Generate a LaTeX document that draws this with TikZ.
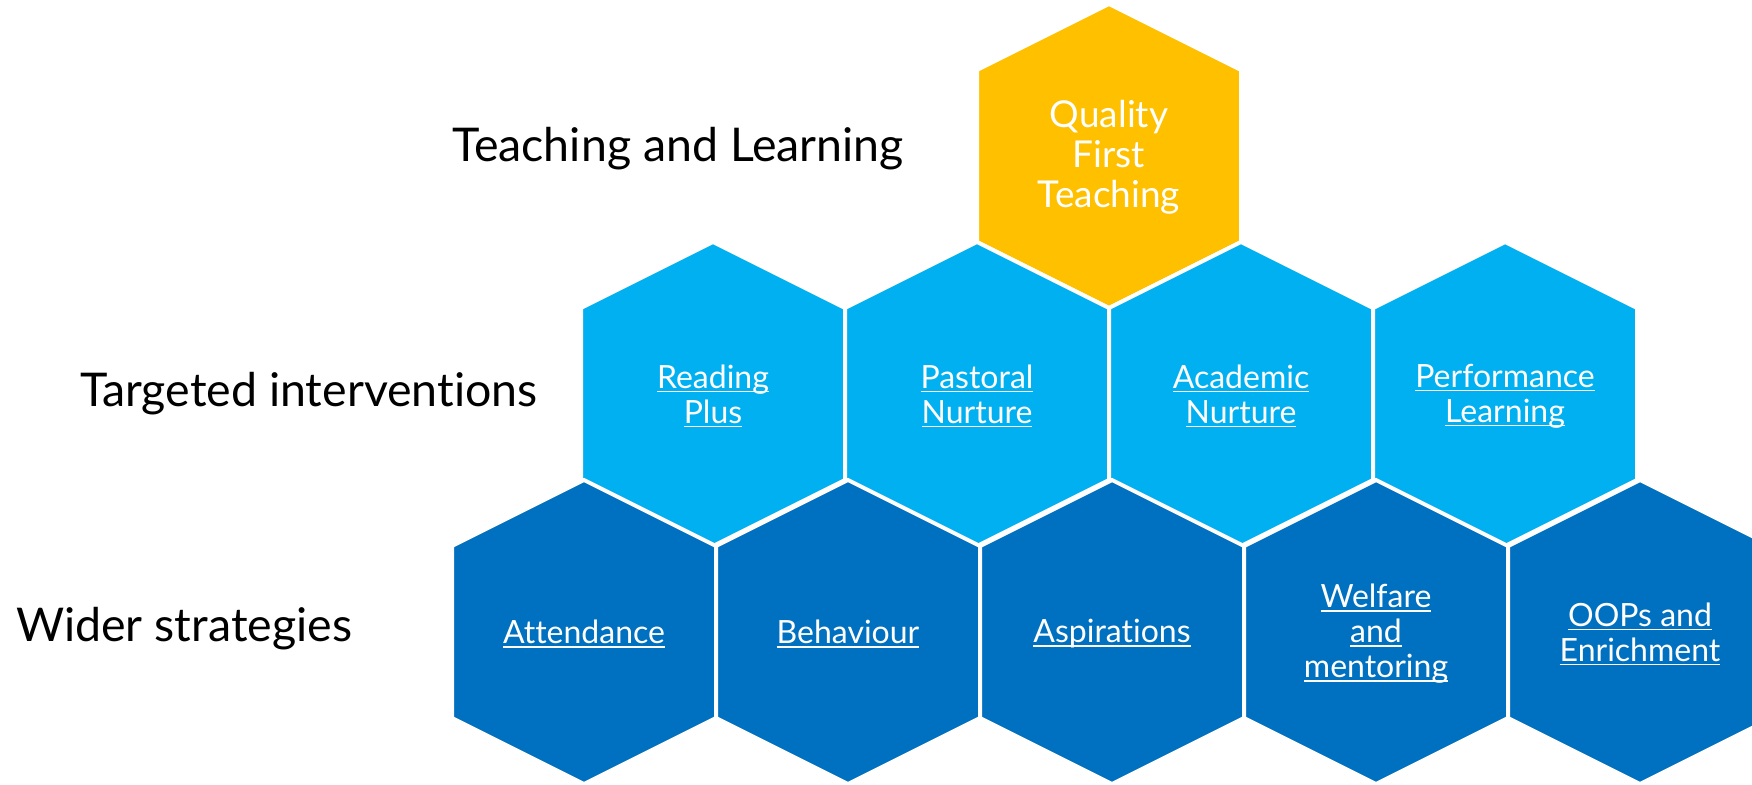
\documentclass[tikz,border=0pt]{standalone}
\usepackage{fontspec}
\setmainfont{Lato}[Ligatures=NoCommon]
\definecolor{qftyellow}{HTML}{FFC000}
\definecolor{targetblue}{HTML}{00B0F0}
\definecolor{widerblue}{HTML}{0070C0}
\newcommand{\hlink}[1]{\setbox0=\hbox{#1}\rlap{\rule[-0.12em]{\wd0}{0.045em}}\box0}
\newcommand{\hexat}[2]{\filldraw[#2] (#1) ++(0,-152) -- ++(132,66) -- ++(0,172) -- ++(-132,66) -- ++(-132,-66) -- ++(0,-172) -- cycle;}
\tikzset{
  every picture/.style={x=1pt,y=-1pt},
  cell/.style={draw=white,line width=4pt,line join=miter},
  celltext/.style={text=white,align=center,inner sep=0pt,font=\fontsize{32}{35}\selectfont},
  tiertext/.style={anchor=west,inner sep=0pt,font=\fontsize{46.5}{54}\selectfont}
}

\begin{document}
\begin{tikzpicture}
      \clip (0,0) rectangle (1752,784);
      \fill[white] (0,0) rectangle (1752,784);
      \hexat{1109,156}{cell,fill=qftyellow}
      \node[celltext,font=\fontsize{37}{40}\selectfont] (qft) at (1109,157) {Quality\\First\\Teaching};
      \hexat{713,394}{cell,fill=targetblue}
      \node[celltext] (reading) at (713,396) {\hlink{Reading}\\\hlink{Plus}};
      \hexat{977,394}{cell,fill=targetblue}
      \node[celltext] (pastoral) at (977,396) {\hlink{Pastoral}\\\hlink{Nurture}};
      \hexat{1241,394}{cell,fill=targetblue}
      \node[celltext] (academic) at (1241,396) {\hlink{Academic}\\\hlink{Nurture}};
      \hexat{1505,394}{cell,fill=targetblue}
      \node[celltext] (performance) at (1505,396) {\hlink{Performance}\\\hlink{Learning}};
      \hexat{584,632}{cell,fill=widerblue}
      \node[celltext] (attendance) at (584,634) {\hlink{Attendance}};
      \hexat{848,632}{cell,fill=widerblue}
      \node[celltext] (behaviour) at (848,634) {\hlink{Behaviour}};
      \hexat{1112,632}{cell,fill=widerblue}
      \node[celltext] (aspirations) at (1112,634) {\hlink{Aspirations}};
      \hexat{1376,632}{cell,fill=widerblue}
      \node[celltext] (welfare) at (1376,634) {\hlink{Welfare}\\\hlink{and}\\\hlink{mentoring}};
      \hexat{1640,632}{cell,fill=widerblue}
      \node[celltext] (oops) at (1640,634) {\hlink{OOPs and}\\\hlink{Enrichment}};
      \node[tiertext] (teaching) at (452,149) {Teaching and Learning};
      \node[tiertext] (targeted) at (80,394) {Targeted interventions};
      \node[tiertext] (wider) at (16,629) {Wider strategies};
    \end{tikzpicture}
\end{document}
